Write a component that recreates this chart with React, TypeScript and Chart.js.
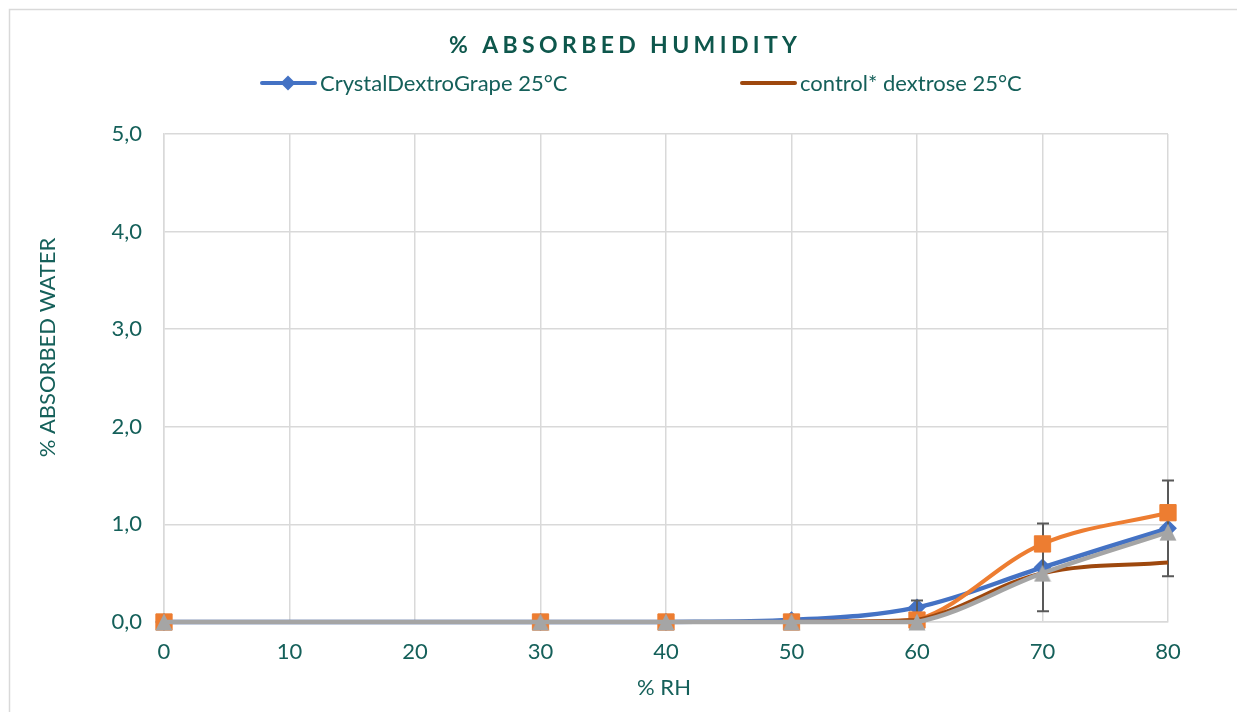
import React, { useEffect, useRef } from 'react';
import { Chart, registerables } from 'chart.js';

Chart.register(...registerables);

// ---- data ----
const rhValues = [0, 30, 40, 50, 60, 70, 80];
const crystalDextroGrape = [0, 0, 0, 0.02, 0.15, 0.56, 0.96];
const crystalErrors = [0, 0, 0, 0, 0.07, 0.45, 0.49];
const seriesOrange = [0, 0, 0, 0, 0.02, 0.8, 1.12];
const controlDextrose = [0, 0, 0, 0, 0.02, 0.5, 0.61];
const seriesGray = [0, 0, 0, 0, 0, 0.5, 0.92];
const xTickValues = [0, 10, 20, 30, 40, 50, 60, 70, 80];
const yTickValues = [0, 1, 2, 3, 4, 5];
const yTickLabels = ['0,0', '1,0', '2,0', '3,0', '4,0', '5,0'];
const chartTitle = '% ABSORBED HUMIDITY';
const yAxisTitle = '% ABSORBED WATER';
const xAxisTitle = '% RH';
const legendLabels = ['CrystalDextroGrape 25°C', 'control* dextrose 25°C'];

const TEXT = '#15605A';
const TITLE = '#0E574C';
const GRID = '#D9D9D9';
const FONT = 'Lato, "Open Sans", sans-serif';

function toPoints(values: number[]) {
  return rhValues.map((x, i) => ({ x, y: values[i] }));
}

function makeTriangle(color: string) {
  const c = document.createElement('canvas');
  c.width = 18;
  c.height = 18;
  const g = c.getContext('2d')!;
  g.fillStyle = color;
  g.beginPath();
  g.moveTo(9, 0.5);
  g.lineTo(17.5, 17.5);
  g.lineTo(0.5, 17.5);
  g.closePath();
  g.fill();
  return c;
}

const framePlugin = {
  id: 'frame',
  beforeDraw(chart: any) {
    const ctx = chart.ctx;
    ctx.save();
    ctx.fillStyle = '#ffffff';
    ctx.fillRect(0, 0, chart.width, chart.height);
    ctx.strokeStyle = GRID;
    ctx.lineWidth = 1.5;
    ctx.strokeRect(9.5, 9.5, chart.width + 50, chart.height + 50);
    ctx.restore();
  },
};

const errorBarPlugin = {
  id: 'errorBars',
  afterDatasetDraw(chart: any, args: any) {
    if (args.index !== 0) return;
    const ctx = chart.ctx;
    const xs = chart.scales.x;
    const ys = chart.scales.y;
    ctx.save();
    ctx.strokeStyle = '#595959';
    ctx.lineWidth = 2;
    rhValues.forEach((x, i) => {
      const e = crystalErrors[i];
      if (!e) return;
      const v = crystalDextroGrape[i];
      const px = Math.round(xs.getPixelForValue(x));
      const top = ys.getPixelForValue(v + e);
      const bot = ys.getPixelForValue(v - e);
      ctx.beginPath();
      ctx.moveTo(px, top);
      ctx.lineTo(px, bot);
      ctx.moveTo(px - 6, top);
      ctx.lineTo(px + 6, top);
      ctx.moveTo(px - 6, bot);
      ctx.lineTo(px + 6, bot);
      ctx.stroke();
    });
    ctx.restore();
  },
};

const textPlugin = {
  id: 'texts',
  afterDraw(chart: any) {
    const ctx = chart.ctx;
    ctx.save();
    // Title with letter spacing
    ctx.fillStyle = TITLE;
    ctx.font = `bold 23px ${FONT}`;
    ctx.textBaseline = 'alphabetic';
    ctx.textAlign = 'left';
    const chars = chartTitle.split('');
    const widths = chars.map((c) => ctx.measureText(c).width);
    const natural = widths.reduce((a, b) => a + b, 0);
    const targetW = 348;
    const spacing = (targetW - natural) / (chars.length - 1);
    let tx = 449;
    chars.forEach((c, i) => {
      ctx.fillText(c, tx, 53);
      tx += widths[i] + spacing;
    });

    // Legend
    const items = [
      { ds: 0, x: 260, text: legendLabels[0] },
      { ds: 2, x: 740, text: legendLabels[1] },
    ];
    items.forEach((it) => {
      const dataset = chart.data.datasets[it.ds];
      const y = 83;
      ctx.strokeStyle = dataset.borderColor;
      ctx.lineWidth = 4;
      ctx.lineCap = 'round';
      ctx.beginPath();
      ctx.moveTo(it.x + 2, y);
      ctx.lineTo(it.x + 55, y);
      ctx.stroke();
      if (dataset.pointStyle === 'rectRot' && dataset.pointRadius > 0) {
        const cx = it.x + 28;
        const r = 7.5;
        ctx.fillStyle = dataset.backgroundColor;
        ctx.beginPath();
        ctx.moveTo(cx, y - r);
        ctx.lineTo(cx + r, y);
        ctx.lineTo(cx, y + r);
        ctx.lineTo(cx - r, y);
        ctx.closePath();
        ctx.fill();
      }
      ctx.fillStyle = TEXT;
      ctx.font = `22px ${FONT}`;
      ctx.textAlign = 'left';
      ctx.textBaseline = 'alphabetic';
      ctx.fillText(it.text, it.x + 60, 91);
    });

    // Axis titles
    ctx.fillStyle = TEXT;
    ctx.font = `22px ${FONT}`;
    ctx.textAlign = 'center';
    ctx.textBaseline = 'alphabetic';
    ctx.fillText(xAxisTitle, 664, 695);
    ctx.save();
    ctx.translate(55, 347.5);
    ctx.rotate(-Math.PI / 2);
    ctx.fillText(yAxisTitle, 0, 0);
    ctx.restore();
    ctx.restore();
  },
};

export default function App() {
  const canvasRef = useRef<HTMLCanvasElement | null>(null);

  useEffect(() => {
    const canvas = canvasRef.current;
    if (!canvas) return;
    const triangle = makeTriangle('#A5A5A5');
    const chart = new Chart(canvas, {
      type: 'line',
      data: {
        datasets: [
          {
            label: legendLabels[0],
            data: toPoints(crystalDextroGrape),
            borderColor: '#4472C4',
            backgroundColor: '#4472C4',
            borderWidth: 4.5,
            pointStyle: 'rectRot',
            pointRadius: 7.5,
            pointBorderWidth: 2,
            pointBorderColor: '#4472C4',
            pointBackgroundColor: '#4472C4',
            tension: 0.35,
            clip: false,
            order: 4,
          },
          {
            label: 'series 2',
            data: toPoints(seriesOrange),
            borderColor: '#ED7D31',
            backgroundColor: '#ED7D31',
            borderWidth: 4,
            pointStyle: 'rect',
            pointRadius: 11.5,
            pointBorderWidth: 1,
            pointBorderColor: '#ED7D31',
            pointBackgroundColor: '#ED7D31',
            tension: 0.35,
            clip: false,
            order: 3,
          },
          {
            label: legendLabels[1],
            data: toPoints(controlDextrose),
            borderColor: '#9E480E',
            backgroundColor: '#9E480E',
            borderWidth: 4,
            pointRadius: 0,
            pointStyle: 'circle',
            tension: 0.35,
            clip: false,
            order: 2,
          },
          {
            label: 'series 3',
            data: toPoints(seriesGray),
            borderColor: '#A5A5A5',
            backgroundColor: '#A5A5A5',
            borderWidth: 4.5,
            pointStyle: triangle,
            pointRadius: 9,
            tension: 0.35,
            clip: false,
            order: 1,
          },
        ],
      },
      options: {
        animation: false,
        responsive: false,
        devicePixelRatio: 1,
        events: [],
        layout: { padding: { left: 0, top: 134, right: 69, bottom: 0 } },
        plugins: {
          legend: { display: false },
          title: { display: false },
          tooltip: { enabled: false },
        },
        scales: {
          x: {
            type: 'linear',
            min: 0,
            max: 80,
            afterBuildTicks: (scale: any) => {
              scale.ticks = xTickValues.map((v) => ({ value: v }));
            },
            afterFit: (scale: any) => {
              scale.height = 90;
            },
            ticks: {
              callback: (v: any) => String(v),
              color: TEXT,
              font: { family: FONT, size: 22 },
              padding: 17,
              maxRotation: 0,
              autoSkip: false,
            },
            grid: { color: GRID, lineWidth: 1.5, drawTicks: false },
            border: { color: GRID, width: 1.5 },
          },
          y: {
            type: 'linear',
            min: 0,
            max: 5,
            afterBuildTicks: (scale: any) => {
              scale.ticks = yTickValues.map((v) => ({ value: v }));
            },
            afterFit: (scale: any) => {
              scale.width = 164;
            },
            ticks: {
              callback: (v: any) => yTickLabels[yTickValues.indexOf(Number(v))],
              color: TEXT,
              font: { family: FONT, size: 22 },
              padding: 22,
              autoSkip: false,
            },
            grid: { color: GRID, lineWidth: 1.5, drawTicks: false },
            border: { color: GRID, width: 1.5 },
          },
        },
      },
      plugins: [framePlugin, errorBarPlugin, textPlugin],
    } as any);

    let alive = true;
    if ((document as any).fonts && (document as any).fonts.ready) {
      (document as any).fonts.ready.then(() => {
        if (alive) chart.update();
      });
    }
    return () => {
      alive = false;
      chart.destroy();
    };
  }, []);

  return (
    <div
      style={{
        position: 'fixed',
        left: 0,
        top: 0,
        width: 1237,
        height: 712,
        overflow: 'hidden',
        background: '#ffffff',
      }}
    >
      <canvas ref={canvasRef} width={1237} height={712} style={{ display: 'block' }} />
    </div>
  );
}
